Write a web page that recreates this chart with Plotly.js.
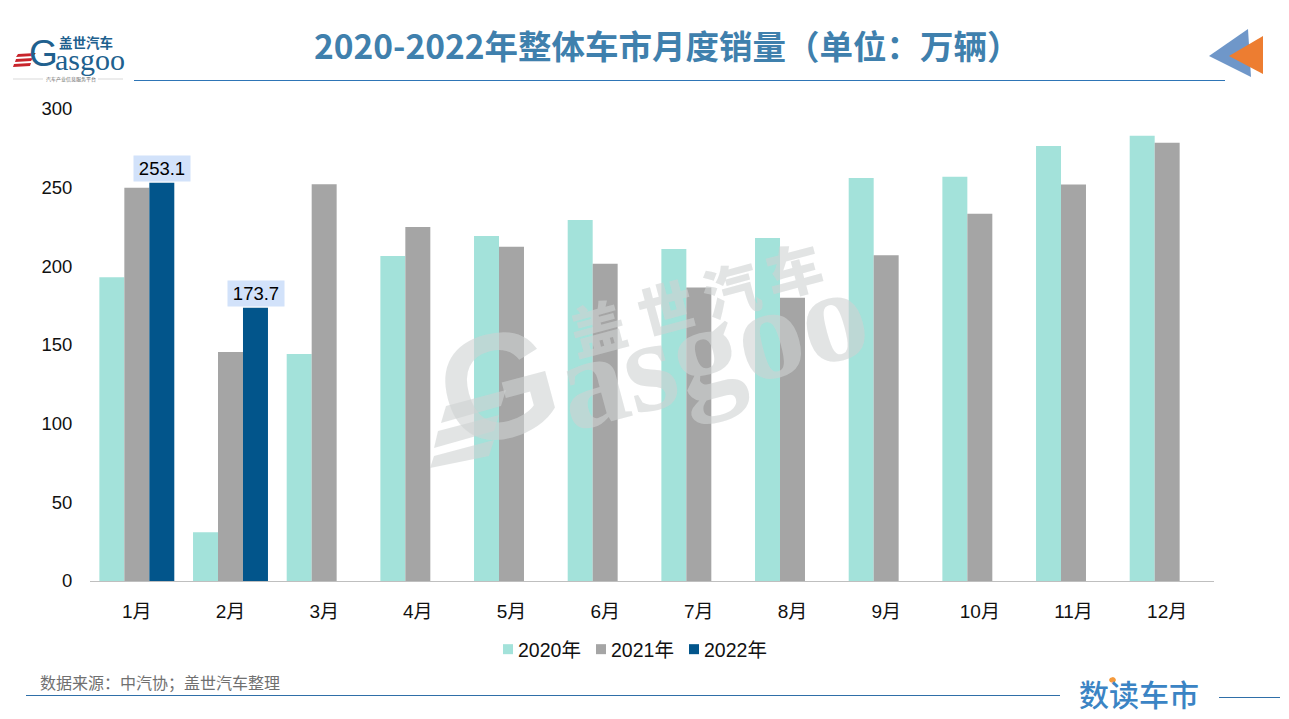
<!DOCTYPE html>
<html><head><meta charset="utf-8">
<script src="https://cdn.plot.ly/plotly-3.0.1.min.js"></script>
<style>html,body{margin:0;padding:0;background:#fff}#c{width:1289px;height:719px}</style></head>
<body><div id="c"></div>
<script>
const categories=['1月','2月','3月','4月','5月','6月','7月','8月','9月','10月','11月','12月'];
const sales2020=[193,31,144.3,206.6,219.3,229.5,211,218,256.2,257,276.5,283];
const sales2021=[250,145.5,252.2,225,212.5,201.7,186.5,180,207,233.5,252,278.5];
const sales2022=[253.1,173.7,null,null,null,null,null,null,null,null,null,null];
const seriesNames=['2020年','2021年','2022年'];
const yTicks=[0,50,100,150,200,250,300];

const W=1289,H=719,L=90,R=1214,T=109,B=581;
const px=x=>(x-L)/(R-L), py=y=>(B-y)/(B-T);
const poly=(pts,fill)=>({type:'path',xref:'paper',yref:'paper',layer:'above',fillcolor:fill,line:{width:0},
  path:'M'+pts.map(p=>px(p[0])+','+py(p[1])).join('L')+'Z'});
const hline=(x0,x1,y,color,w)=>({type:'line',xref:'paper',yref:'paper',layer:'above',x0:px(x0),x1:px(x1),y0:py(y),y1:py(y),line:{color,width:w}});
const base='"Liberation Sans","Noto Sans CJK SC"', serif='"Liberation Serif"', cjk='"Noto Sans CJK SC"';
const note=(text,x,y,size,color,family,extra,weight)=>Object.assign({text,xref:'paper',yref:'paper',x:px(x),y:py(y),showarrow:false,
  xanchor:'center',yanchor:'middle',font:{size,color,family,weight:weight||400}},extra||{});
const WM='rgba(207,210,210,0.6)';
const tilt={textangle:-15};

const shapes=[
  hline(134,1225,80.5,'#2e75b6',1),
  hline(26,1060,695.5,'#2f6fa8',1),
  hline(1219,1280,697.5,'#2f6fa8',1),
  poly([[1209,56],[1248,29],[1251,77]],'#6f97c9'),
  poly([[1229,56],[1263,36],[1263,74]],'#ed7d31'),
  poly([[18,54],[36,53],[33,56],[16,57]],'#c8242b'),
  poly([[16,59],[33,58],[31,61],[15,62]],'#c8242b'),
  poly([[14,64],[31,63],[30,66],[13,67]],'#c8242b'),
  hline(13,43,79,'#d9d9d9',1),
  hline(98,123,79,'#d9d9d9',1),
  poly([[446,406],[506,390],[501,406],[441,423]],WM),
  poly([[438,431],[499,415],[494,431],[434,448]],WM),
  poly([[434,456],[494,440],[489,456],[430,468]],WM),
  poly([[1110,678],[1113,677],[1115,678],[1116,680],[1115,682],[1113,683],[1110,682],[1109,680]],'#f59a3c')
];

const annotations=[
  note('2020-2022年整体车市月度销量（单位：万辆）',667,44,33.5,'#3f80ad',cjk,{},700),
  note('数据来源：中汽协；盖世汽车整理',160,682,16,'#707070',cjk),
  note('数读车市',1139,693,30,'#3b84c4',cjk,{},500),
  note('盖世汽车',86,42,13.5,'#20608e',cjk,{},700),
  note('G',43,54,37,'#20608e','"Liberation Sans"',{},400),
  note('asgoo',90,60,30,'#20608e',serif),
  note('汽车产业信息服务平台',71,79,5,'#666',cjk),
  note('盖',597,325,56,WM,cjk,tilt,900),
  note('世',665,305,56,WM,cjk,tilt,900),
  note('汽',730,287,56,WM,cjk,tilt,900),
  note('车',793,267,56,WM,cjk,tilt,900),
  note('asgoo',711,348,132,WM,serif,tilt,700),
  note('G',498,386,150,WM,'"Liberation Sans"',tilt,700)
];
sales2022.forEach((v,i)=>{ if(v!==null) annotations.push({x:categories[i],y:v,xref:'x',yref:'y',text:v.toFixed(1),showarrow:false,
  xshift:25,yshift:1,yanchor:'bottom',bgcolor:'#d2e2fa',borderpad:0,width:56,height:25,
  font:{size:18.5,color:'#000',family:'"Liberation Sans"'}}); });

Plotly.newPlot('c',[
  {type:'bar',name:seriesNames[0],x:categories,y:sales2020,marker:{color:'#a3e2da'}},
  {type:'bar',name:seriesNames[1],x:categories,y:sales2021,marker:{color:'#a5a5a5'}},
  {type:'bar',name:seriesNames[2],x:categories,y:sales2022,marker:{color:'#02558b'}}
],{
  width:W,height:H,paper_bgcolor:'#fff',plot_bgcolor:'#fff',
  margin:{l:L,r:W-R,t:T,b:H-B,pad:0},
  barmode:'group',bargap:0.2,bargroupgap:0,
  font:{family:base,size:18,color:'#111'},
  xaxis:{type:'category',categories:categories,categoryorder:'array',categoryarray:categories,showgrid:false,showline:true,linecolor:'#bfbfbf',linewidth:1,
    ticks:'outside',ticklen:13,tickcolor:'rgba(0,0,0,0)',tickfont:{size:19,color:'#111',family:base},automargin:false,zeroline:false},
  yaxis:{range:[0,300],tickvals:yTicks,showgrid:false,showline:false,zeroline:false,
    ticks:'outside',ticklen:13,tickcolor:'rgba(0,0,0,0)',tickfont:{size:18.5,color:'#111',family:base},automargin:false},
  legend:{orientation:'h',x:px(478),xanchor:'left',y:py(630),yanchor:'top',font:{size:19.5,color:'#111',family:base},
    entrywidth:48,entrywidthmode:'pixels',bgcolor:'rgba(0,0,0,0)',traceorder:'normal'},
  shapes,annotations,
  showlegend:true
},{displayModeBar:false,staticPlot:true}).then(()=>{
  document.querySelectorAll('.legend .legendpoints').forEach(g=>g.setAttribute('transform','translate(10,0)'));
  document.querySelectorAll('.legend .legendpoints path').forEach(p=>p.setAttribute('d','M5,5H-5V-5H5Z'));
  document.querySelectorAll('.legend .scrollbox').forEach(g=>{g.removeAttribute('clip-path');g.style.clipPath='none';});
});
</script></body></html>
